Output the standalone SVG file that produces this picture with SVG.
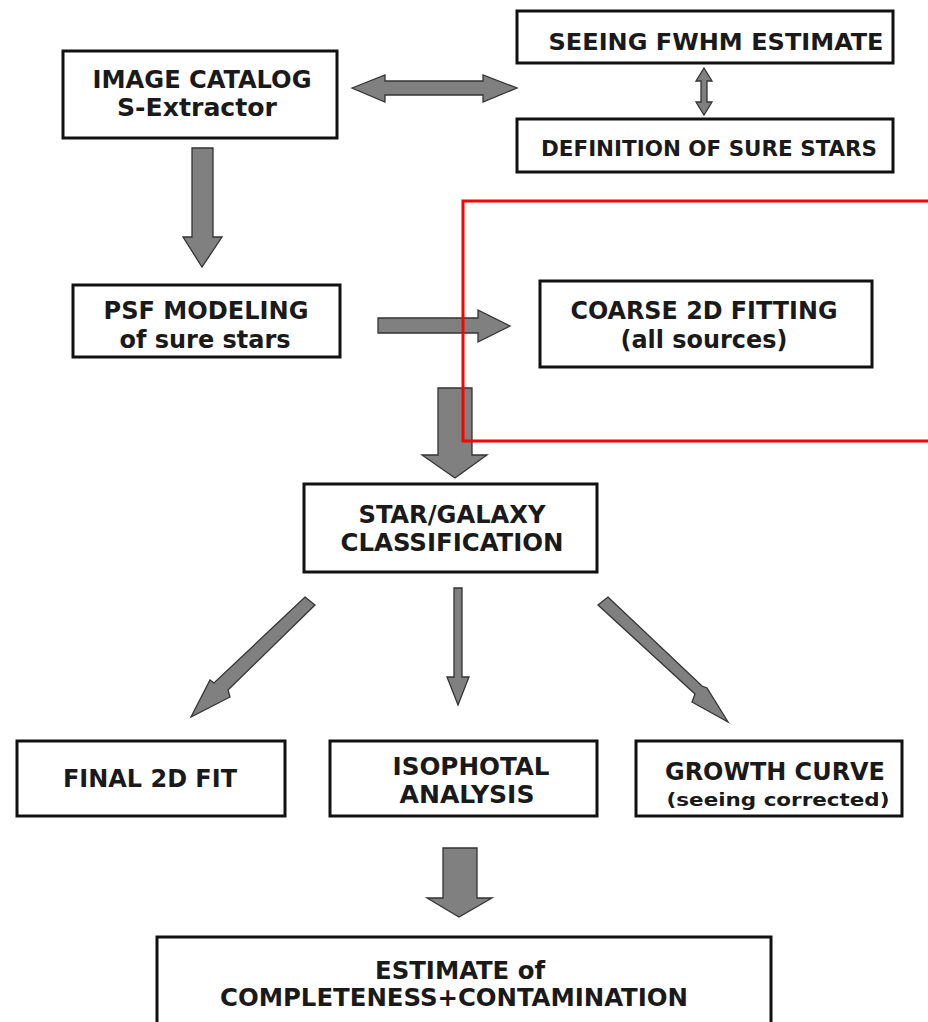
<svg xmlns="http://www.w3.org/2000/svg" width="928" height="1022" viewBox="0 0 928 1022">
<style>
.box{fill:#fff;stroke:#111;stroke-width:3}
.t{font-family:"DejaVu Sans Condensed","DejaVu Sans",sans-serif;font-stretch:condensed;font-weight:bold;fill:#1a1a1a}
.arr{fill:#808080;stroke:#333;stroke-width:1.3;stroke-linejoin:miter}
</style>
<rect width="928" height="1022" fill="#fff"/>
<g id="connectors">
<path class="arr" d="M352,88 L385,75 L385,81 L483,81 L483,75 L517,88 L483,102 L483,95 L385,95 L385,102 Z"/>
<path class="arr" d="M704,68 L712,81 L707,81 L707,102 L712,102 L704,115 L696,102 L701,102 L701,81 L696,81 Z"/>
<path class="arr" d="M192,148 L213,148 L213,237 L222,237 L202,267 L183,237 L192,237 Z"/>
<path class="arr" d="M378,318 L478,318 L478,310 L510,326 L478,342 L478,333 L378,333 Z"/>
<path class="arr" d="M438,388 L472,388 L472,455 L487,455 L455,478 L422,455 L438,455 Z"/>
<path class="arr" d="M305,597 L315,605 L228,690 L230,697 L191,717 L210,680 L214,683 Z"/>
<path class="arr" d="M598,605 L608,597 L702,686 L707,688 L728,722 L692,702 L695,694 Z"/>
<path class="arr" d="M454,588 L462,588 L462,677 L469,677 L458,705 L447,677 L454,677 Z"/>
<path class="arr" d="M443,848 L477,848 L477,898 L492,898 L459,917 L427,898 L443,898 Z"/>
</g>
<g id="image-catalog">
<rect class="box" x="63" y="51" width="274" height="87"/>
<text class="t" x="202" y="88" font-size="24" text-anchor="middle" textLength="219" lengthAdjust="spacingAndGlyphs">IMAGE CATALOG</text>
<text class="t" x="197" y="116" font-size="24" text-anchor="middle" textLength="160" lengthAdjust="spacingAndGlyphs">S-Extractor</text>
</g>
<g id="seeing">
<rect class="box" x="517" y="11" width="376" height="52"/>
<text class="t" x="716" y="50" font-size="23" text-anchor="middle" textLength="335" lengthAdjust="spacingAndGlyphs">SEEING FWHM ESTIMATE</text>
</g>
<g id="sure-stars">
<rect class="box" x="517" y="119" width="376" height="53"/>
<text class="t" x="709" y="156" font-size="21" text-anchor="middle" textLength="336" lengthAdjust="spacingAndGlyphs">DEFINITION OF SURE STARS</text>
</g>
<g id="psf">
<rect class="box" x="73" y="285" width="267" height="72"/>
<text class="t" x="206" y="319" font-size="24" text-anchor="middle" textLength="205" lengthAdjust="spacingAndGlyphs">PSF MODELING</text>
<text class="t" x="205" y="348" font-size="24" text-anchor="middle" textLength="171" lengthAdjust="spacingAndGlyphs">of sure stars</text>
</g>
<g id="coarse">
<rect class="box" x="540" y="281" width="332" height="86"/>
<text class="t" x="704" y="319" font-size="24" text-anchor="middle" textLength="267" lengthAdjust="spacingAndGlyphs">COARSE 2D FITTING</text>
<text class="t" x="704" y="348" font-size="24" text-anchor="middle" textLength="167" lengthAdjust="spacingAndGlyphs">(all sources)</text>
</g>
<g id="star-galaxy">
<rect class="box" x="304" y="484" width="293" height="88"/>
<text class="t" x="452" y="523" font-size="24" text-anchor="middle" textLength="187" lengthAdjust="spacingAndGlyphs">STAR/GALAXY</text>
<text class="t" x="452" y="551" font-size="24" text-anchor="middle" textLength="223" lengthAdjust="spacingAndGlyphs">CLASSIFICATION</text>
</g>
<g id="final-fit">
<rect class="box" x="17" y="741" width="268" height="75"/>
<text class="t" x="150" y="787" font-size="24" text-anchor="middle" textLength="174" lengthAdjust="spacingAndGlyphs">FINAL 2D FIT</text>
</g>
<g id="isophotal">
<rect class="box" x="330" y="741" width="267" height="75"/>
<text class="t" x="471" y="775" font-size="24" text-anchor="middle" textLength="157" lengthAdjust="spacingAndGlyphs">ISOPHOTAL</text>
<text class="t" x="467" y="803" font-size="24" text-anchor="middle" textLength="135" lengthAdjust="spacingAndGlyphs">ANALYSIS</text>
</g>
<g id="growth">
<rect class="box" x="636" y="741" width="266" height="75"/>
<text class="t" x="775" y="780" font-size="24" text-anchor="middle" textLength="220" lengthAdjust="spacingAndGlyphs">GROWTH CURVE</text>
<text class="t" x="778" y="806" font-size="18" text-anchor="middle" textLength="223" lengthAdjust="spacingAndGlyphs">(seeing corrected)</text>
</g>
<g id="estimate">
<rect class="box" x="157" y="937" width="614" height="100"/>
<text class="t" x="460" y="979" font-size="24" text-anchor="middle" textLength="170" lengthAdjust="spacingAndGlyphs">ESTIMATE of</text>
<text class="t" x="454" y="1006" font-size="24" text-anchor="middle" textLength="468" lengthAdjust="spacingAndGlyphs">COMPLETENESS+CONTAMINATION</text>
</g>
<rect id="highlight" x="463" y="201" width="470" height="240" fill="none" stroke="#ff0000" stroke-width="3"/>
</svg>
